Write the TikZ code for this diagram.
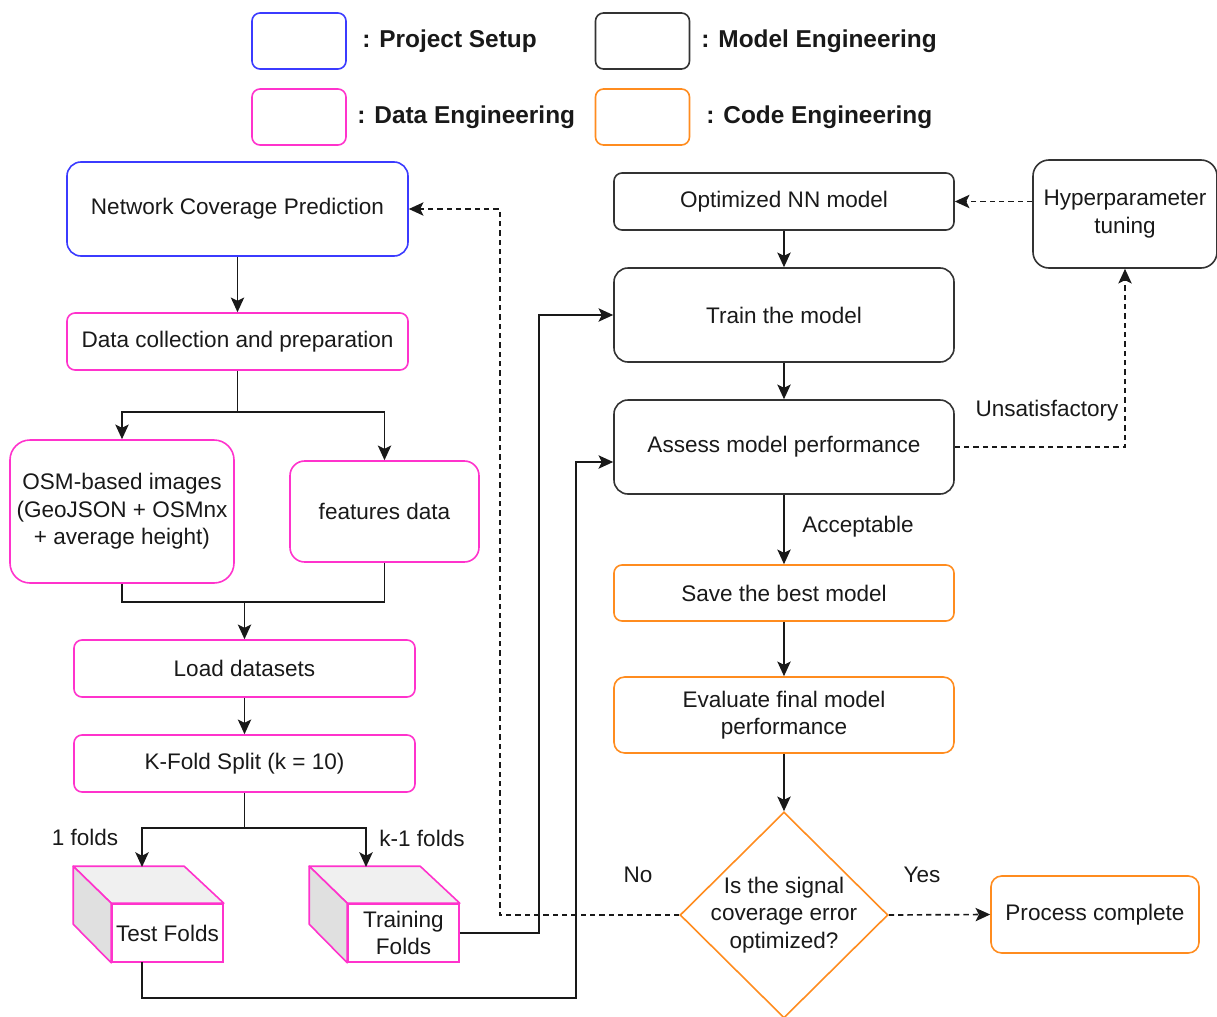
\documentclass[tikz,border=0pt]{standalone}
\usepackage{fontspec}
\setmainfont{Liberation Sans}
\usetikzlibrary{arrows.meta,shapes.geometric,calc}
\definecolor{cblue}{HTML}{3B3BFF}
\definecolor{cpink}{HTML}{FF33CC}
\definecolor{corange}{HTML}{FF8C1F}
\definecolor{cdark}{HTML}{333333}
\definecolor{ctop}{HTML}{F0F0F0}
\definecolor{cside}{HTML}{E0E0E0}
\newcommand\mynf{\fontsize{16.9}{20.6}\selectfont}
\newcommand\mylf{\fontsize{18.3}{22}\selectfont\bfseries}
\begin{document}
\begin{tikzpicture}[x=0.75pt,y=-0.75pt,
  box/.style={draw, rounded corners=#1, align=center, inner sep=0pt, line width=1.2pt, font=\mynf, text=black!90},
  lbl/.style={font=\mynf, text=black!90, inner sep=0pt},
  leg/.style={font=\mylf, text=black!90, inner sep=0pt, anchor=west},
  conn/.style={line width=1.25pt, draw=black!90},
  arr/.style={conn, -{Stealth[length=11pt,width=10pt,inset=2.5pt]}},
  darr/.style={arr, dash pattern=on 4pt off 3pt},
  dline/.style={conn, dash pattern=on 4pt off 3pt},
  faceT/.style={fill=ctop, draw=cpink, line width=1.2pt, line join=round},
  faceS/.style={fill=cside, draw=cpink, line width=1.2pt, line join=round}]
\useasboundingbox (0,0) rectangle (1217,1017);

% legend
\node[box=6pt, draw=cblue, minimum width=70.5pt, minimum height=42pt] (lg1) at (299,41) {};
\node[leg] (lt1) at (362,41) {: Project Setup};
\node[box=6pt, draw=cdark, minimum width=70.5pt, minimum height=42pt] (lg2) at (642.5,41) {};
\node[leg] (lt2) at (701,41) {: Model Engineering};
\node[box=6pt, draw=cpink, minimum width=70.5pt, minimum height=42pt] (lg3) at (299,117) {};
\node[leg] (lt3) at (357,117) {: Data Engineering};
\node[box=6pt, draw=corange, minimum width=70.5pt, minimum height=42pt] (lg4) at (642.5,117) {};
\node[leg] (lt4) at (706,117) {: Code Engineering};

% left column
\node[box=10.5pt, draw=cblue, minimum width=255.75pt, minimum height=70.5pt] (ncp) at (237.5,209) {Network Coverage Prediction};
\node[box=6pt, draw=cpink, minimum width=255.75pt, minimum height=42.75pt] (dcp) at (237.5,341.5) {Data collection and preparation};
\node[box=15pt, draw=cpink, minimum width=168pt, minimum height=107.25pt] (osm) at (122,511.5) {OSM-based images\\(GeoJSON + OSMnx\\+ average height)};
\node[box=11pt, draw=cpink, minimum width=141.75pt, minimum height=75.75pt] (feat) at (384.5,511.5) {features data};
\node[box=6pt, draw=cpink, minimum width=255.75pt, minimum height=42.75pt] (load) at (244.5,668.5) {Load datasets};
\node[box=6pt, draw=cpink, minimum width=255.75pt, minimum height=42.75pt] (kfold) at (244.5,763.5) {K-Fold Split (k = 10)};

% cubes
\node[box=0pt, draw=cpink, minimum width=83.25pt, minimum height=43.5pt] (testf) at (167.5,933) {Test Folds};
\draw[faceT] (testf.north west) -- ++(-38,-37) -- ++(111,0) -- (testf.north east) -- cycle;
\draw[faceS] (testf.north west) -- ++(-38,-37) -- ++(0,58) -- (testf.south west) -- cycle;
\node[box=0pt, draw=cpink, minimum width=83.25pt, minimum height=43.5pt] (trainf) at (403.5,933) {Training\\Folds};
\draw[faceT] (trainf.north west) -- ++(-38,-37) -- ++(111,0) -- (trainf.north east) -- cycle;
\draw[faceS] (trainf.north west) -- ++(-38,-37) -- ++(0,58) -- (trainf.south west) -- cycle;
\coordinate (testtop) at (142,867);
\coordinate (testbot) at (142,962);
\coordinate (traintop) at (366,867);

% right column
\node[box=6pt, draw=cdark, minimum width=255pt, minimum height=42.75pt] (opt) at (784,201.5) {Optimized NN model};
\node[box=12pt, draw=cdark, minimum width=138pt, minimum height=81pt] (hyp) at (1125,214) {Hyperparameter\\tuning};
\node[box=10.5pt, draw=cdark, minimum width=255pt, minimum height=70.5pt] (train) at (784,315) {Train the model};
\node[box=10.5pt, draw=cdark, minimum width=255pt, minimum height=70.5pt] (assess) at (784,447) {Assess model performance};
\node[box=6pt, draw=corange, minimum width=255pt, minimum height=42pt] (save) at (784,593) {Save the best model};
\node[box=8pt, draw=corange, minimum width=255pt, minimum height=57pt] (eval) at (784,715) {Evaluate final model\\performance};
\node[diamond, draw=corange, line width=1.2pt, minimum width=156pt, minimum height=154.5pt, inner sep=0pt] (dia) at (784,915) {};
\node[lbl, align=center] (diat) at (784,915) {Is the signal\\coverage error\\optimized?};
\node[box=8pt, draw=corange, minimum width=156pt, minimum height=57.75pt] (proc) at (1095,914.5) {Process complete};

% connectors left
\draw[arr] (ncp.south) -- (dcp.north);
\coordinate (split1) at (237.5,412);
\draw[conn] (dcp.south) -- (split1);
\draw[arr] (split1) -| (osm.north);
\draw[arr] (split1) -| (feat.north);
\coordinate (merge) at (244.5,602);
\draw[conn] (osm.south) |- (merge);
\draw[conn] (feat.south) |- (merge);
\draw[arr] (merge) -- (load.north);
\draw[arr] (load.south) -- (kfold.north);
\coordinate (split2) at (244.5,828);
\draw[conn] (kfold.south) -- (split2);
\draw[arr] (split2) -| (testtop);
\draw[arr] (split2) -| (traintop);
\node[lbl] (l1) at (85,837) {1 folds};
\node[lbl] (l2) at (422,838) {k-1 folds};

% feedback No
\coordinate (nox) at (500,0);
\draw[darr] (dia.west) -| (nox |- ncp.east) -- (ncp.east);

% training folds to train
\coordinate (tx) at (539,0);
\draw[arr] (trainf.east) -| (tx |- train.west) -- (train.west);

% test folds to assess
\coordinate (lowy) at (0,998);
\coordinate (asx) at (576,0);
\draw[arr] (testbot) |- (asx |- lowy) |- ([yshift=-11.25pt]assess.west);

% right connectors
\draw[arr] (opt.south) -- (train.north);
\draw[arr] (train.south) -- (assess.north);
\draw[arr] (assess.south) -- (save.north);
\node[lbl] (acc) at (858,527) {Acceptable};
\draw[arr] (save.south) -- (eval.north);
\draw[arr] (eval.south) -- (dia.north);
\draw[darr] (dia.east) -- (proc.west);
\node[lbl] (yes) at (922,875) {Yes};
\node[lbl] (no) at (638,875) {No};
\draw[darr] (assess.east) -| (hyp.south);
\node[lbl] (uns) at (1047,411) {Unsatisfactory};
\draw[darr] (hyp.west |- opt.east) -- (opt.east);
\end{tikzpicture}
\end{document}
